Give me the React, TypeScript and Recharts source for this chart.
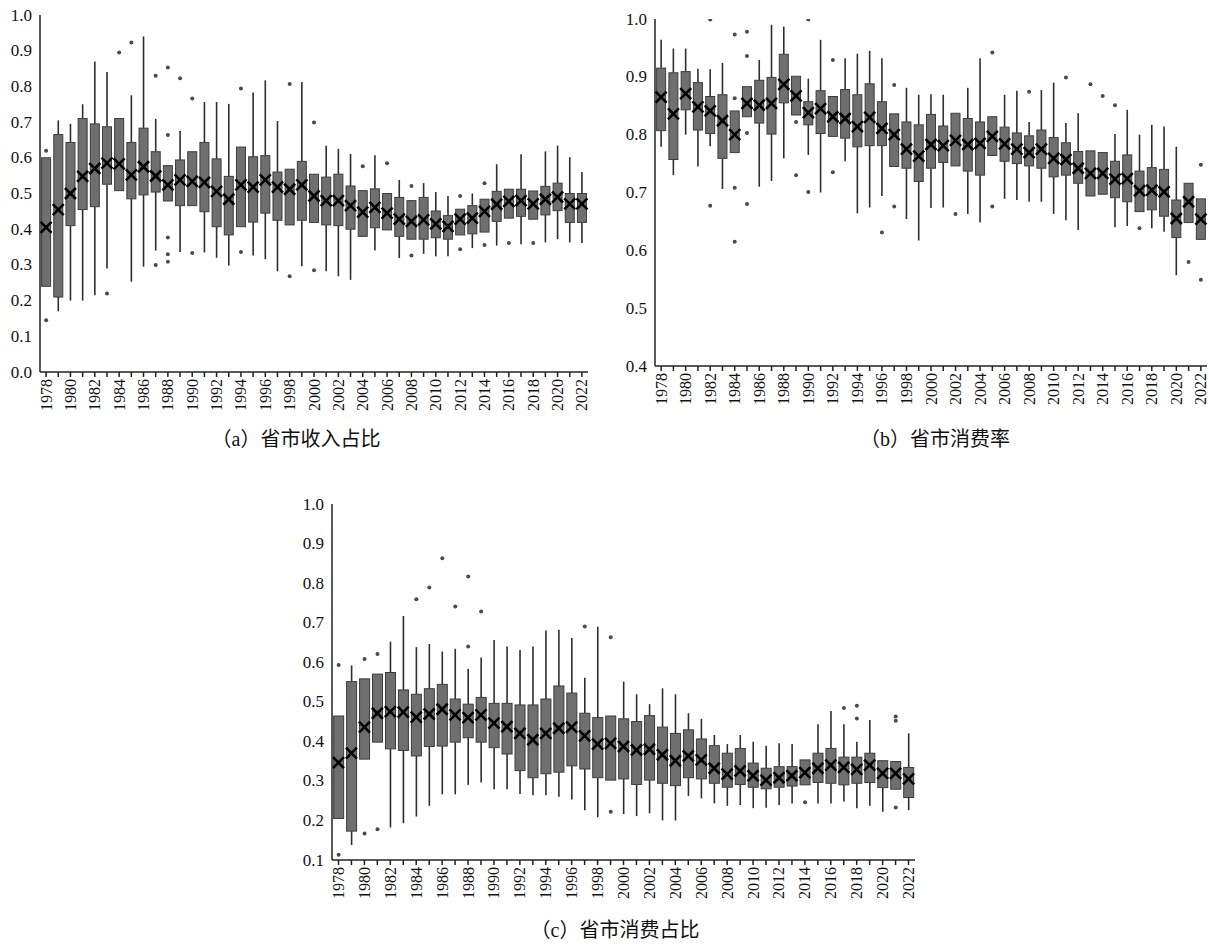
import React from 'react';
import { ComposedChart, Bar, Scatter, XAxis, YAxis } from 'recharts';

const years = ['1978','1979','1980','1981','1982','1983','1984','1985','1986','1987','1988','1989','1990','1991','1992','1993','1994','1995','1996','1997','1998','1999','2000','2001','2002','2003','2004','2005','2006','2007','2008','2009','2010','2011','2012','2013','2014','2015','2016','2017','2018','2019','2020','2021','2022'];

// (a) 省市收入占比
const aMin = [0.24,0.17,0.20,0.20,0.215,0.29,0.508,0.253,0.295,0.34,0.479,0.336,0.466,0.335,0.32,0.298,0.407,0.326,0.316,0.282,0.412,0.296,0.419,0.282,0.268,0.258,0.38,0.34,0.398,0.319,0.372,0.331,0.324,0.324,0.384,0.347,0.392,0.354,0.431,0.358,0.428,0.363,0.372,0.363,0.361];
const aQ1 = [0.24,0.21,0.41,0.455,0.463,0.526,0.508,0.485,0.496,0.504,0.479,0.466,0.466,0.449,0.407,0.384,0.407,0.42,0.445,0.425,0.412,0.425,0.419,0.412,0.41,0.40,0.38,0.404,0.398,0.38,0.372,0.372,0.376,0.372,0.384,0.387,0.392,0.422,0.431,0.436,0.428,0.44,0.452,0.419,0.419];
const aQ3 = [0.60,0.665,0.643,0.71,0.695,0.687,0.71,0.643,0.683,0.617,0.578,0.594,0.617,0.643,0.597,0.548,0.63,0.603,0.606,0.56,0.568,0.59,0.554,0.546,0.554,0.521,0.508,0.513,0.50,0.489,0.48,0.489,0.451,0.438,0.456,0.466,0.484,0.506,0.512,0.512,0.507,0.52,0.529,0.50,0.50];
const aMax = [0.60,0.705,0.695,0.75,0.87,0.84,0.71,0.775,0.94,0.709,0.578,0.675,0.617,0.756,0.756,0.751,0.63,0.783,0.817,0.703,0.568,0.812,0.554,0.634,0.625,0.611,0.508,0.607,0.50,0.538,0.48,0.529,0.504,0.493,0.456,0.50,0.484,0.582,0.512,0.61,0.507,0.618,0.634,0.602,0.56];
const aMean = [0.405,0.455,0.50,0.548,0.57,0.585,0.583,0.552,0.575,0.549,0.524,0.538,0.534,0.531,0.506,0.484,0.524,0.518,0.538,0.518,0.512,0.524,0.493,0.48,0.48,0.466,0.448,0.461,0.445,0.428,0.422,0.426,0.415,0.408,0.428,0.431,0.45,0.47,0.478,0.48,0.471,0.484,0.49,0.471,0.471];
const aOut = [[0.62,0.145],[],[],[],[],[0.22],[0.895],[0.923],[],[0.83,0.30],[0.853,0.664,0.377,0.33,0.309],[0.823],[0.766,0.333],[],[],[],[0.794,0.336],[],[],[],[0.807,0.268],[],[0.699,0.285],[],[],[],[0.576],[],[0.585],[],[0.521,0.326],[],[],[],[0.493,0.344],[],[0.529,0.356],[],[0.361],[],[0.361],[],[],[],[]];

// (b) 省市消费率
const bMin = [0.779,0.73,0.80,0.745,0.78,0.706,0.769,0.831,0.71,0.72,0.759,0.834,0.765,0.70,0.797,0.754,0.664,0.674,0.694,0.745,0.654,0.617,0.673,0.674,0.746,0.663,0.648,0.764,0.689,0.687,0.684,0.684,0.663,0.652,0.635,0.694,0.697,0.64,0.642,0.667,0.638,0.632,0.557,0.648,0.619];
const bQ1 = [0.807,0.757,0.843,0.808,0.802,0.759,0.769,0.831,0.82,0.801,0.855,0.834,0.817,0.802,0.797,0.794,0.779,0.781,0.781,0.745,0.742,0.719,0.742,0.752,0.746,0.737,0.73,0.764,0.754,0.75,0.746,0.742,0.727,0.73,0.716,0.694,0.697,0.691,0.684,0.667,0.67,0.659,0.622,0.648,0.619];
const bQ3 = [0.915,0.907,0.909,0.89,0.866,0.869,0.841,0.883,0.894,0.899,0.939,0.901,0.857,0.876,0.866,0.878,0.869,0.888,0.857,0.836,0.822,0.817,0.835,0.815,0.837,0.828,0.822,0.831,0.813,0.803,0.798,0.808,0.795,0.786,0.771,0.772,0.769,0.754,0.765,0.737,0.743,0.74,0.687,0.716,0.689];
const bMax = [0.964,0.949,0.949,0.914,0.913,0.924,0.841,0.883,0.929,0.99,0.987,0.901,0.897,0.964,0.866,0.932,0.94,0.945,0.932,0.836,0.881,0.869,0.870,0.869,0.837,0.881,0.932,0.831,0.869,0.876,0.822,0.877,0.89,0.82,0.837,0.772,0.769,0.801,0.843,0.80,0.817,0.814,0.779,0.716,0.689];
const bMean = [0.865,0.836,0.871,0.848,0.841,0.824,0.80,0.854,0.851,0.854,0.887,0.867,0.838,0.845,0.831,0.828,0.814,0.83,0.811,0.80,0.775,0.763,0.783,0.781,0.79,0.783,0.785,0.797,0.784,0.775,0.769,0.775,0.759,0.757,0.742,0.733,0.733,0.723,0.724,0.703,0.704,0.701,0.655,0.684,0.654];
const bOut = [[],[],[],[],[0.999,0.677],[],[0.973,0.863,0.708,0.615],[0.978,0.936,0.803,0.68],[],[],[],[0.822,0.73],[0.999,0.701],[],[0.929,0.735],[],[],[],[0.631],[0.886,0.676],[],[],[],[],[0.663],[],[],[0.942,0.676],[],[],[0.874],[],[],[0.899],[],[0.887],[0.867],[0.851],[],[0.638],[],[],[],[0.58],[0.748,0.549]];

// (c) 省市消费占比
const cMin = [0.205,0.138,0.355,0.398,0.182,0.193,0.21,0.237,0.266,0.266,0.29,0.296,0.279,0.279,0.267,0.264,0.264,0.26,0.253,0.226,0.208,0.302,0.216,0.211,0.218,0.20,0.20,0.262,0.256,0.243,0.237,0.239,0.231,0.232,0.239,0.243,0.29,0.243,0.243,0.248,0.231,0.237,0.222,0.279,0.226];
const cQ1 = [0.205,0.173,0.355,0.398,0.381,0.377,0.363,0.387,0.388,0.398,0.409,0.398,0.384,0.368,0.326,0.308,0.318,0.322,0.338,0.33,0.308,0.302,0.305,0.291,0.302,0.294,0.288,0.308,0.305,0.294,0.284,0.291,0.284,0.28,0.284,0.287,0.29,0.296,0.294,0.29,0.294,0.296,0.283,0.279,0.258];
const cQ3 = [0.464,0.551,0.558,0.57,0.574,0.53,0.519,0.533,0.544,0.507,0.494,0.511,0.496,0.496,0.492,0.492,0.507,0.54,0.522,0.471,0.46,0.464,0.457,0.45,0.465,0.436,0.42,0.429,0.406,0.389,0.37,0.382,0.345,0.332,0.336,0.336,0.353,0.37,0.382,0.36,0.36,0.37,0.351,0.349,0.334];
const cMax = [0.464,0.592,0.558,0.57,0.652,0.717,0.638,0.646,0.627,0.634,0.583,0.612,0.656,0.64,0.631,0.64,0.68,0.682,0.661,0.561,0.69,0.464,0.551,0.519,0.494,0.534,0.519,0.471,0.457,0.416,0.393,0.416,0.399,0.389,0.395,0.393,0.353,0.443,0.477,0.443,0.399,0.454,0.351,0.349,0.42];
const cMean = [0.346,0.37,0.436,0.471,0.475,0.474,0.461,0.469,0.481,0.467,0.46,0.467,0.446,0.437,0.42,0.404,0.42,0.433,0.436,0.414,0.393,0.395,0.387,0.378,0.38,0.366,0.351,0.363,0.353,0.332,0.317,0.325,0.313,0.302,0.308,0.313,0.321,0.332,0.34,0.334,0.329,0.34,0.319,0.319,0.305];
const cOut = [[0.593,0.113],[],[0.608,0.167],[0.621,0.178],[],[],[0.759],[0.789],[0.863],[0.741],[0.817,0.64],[0.728],[],[],[],[],[],[],[],[0.69],[],[0.663,0.222],[],[],[],[],[],[],[],[],[],[],[],[],[],[],[0.246],[],[],[0.484],[0.49,0.458],[],[],[0.463,0.452,0.233],[]];

const aTicks = [0, 0.1, 0.2, 0.3, 0.4, 0.5, 0.6, 0.7, 0.8, 0.9, 1.0];
const bTicks = [0.4, 0.5, 0.6, 0.7, 0.8, 0.9, 1.0];
const cTicks = [0.1, 0.2, 0.3, 0.4, 0.5, 0.6, 0.7, 0.8, 0.9, 1.0];

type Row = { year: string; span: [number, number]; min: number; q1: number; q3: number; max: number; mean: number; out: number[] };

function buildRows(mn: number[], q1: number[], q3: number[], mx: number[], mean: number[], out: number[][]): Row[] {
  return years.map((year, i) => {
    const lo = Math.min(mn[i], ...out[i]);
    const hi = Math.max(mx[i], ...out[i]);
    return { year, span: [lo, hi], min: mn[i], q1: q1[i], q3: q3[i], max: mx[i], mean: mean[i], out: out[i] };
  });
}

const SERIF = 'Liberation Serif, Times New Roman, Tinos, DejaVu Serif, serif';

function makeBoxShape(boxW: number) {
  return (props: any) => {
    const { x, y, width, height } = props;
    const d: Row = props.payload ?? props;
    if (x == null || y == null || !d || !d.span) return <g />;
    const [lo, hi] = d.span;
    const top = Math.min(y, y + height);
    const h = Math.abs(height);
    const py = (v: number) => (hi === lo ? top : top + ((hi - v) / (hi - lo)) * h);
    const cx = x + width / 2;
    const yq3 = py(d.q3);
    const yq1 = py(d.q1);
    return (
      <g>
        <line x1={cx} x2={cx} y1={py(d.max)} y2={yq3} stroke="#2e2e2e" strokeWidth={1.6} />
        <line x1={cx} x2={cx} y1={yq1} y2={py(d.min)} stroke="#2e2e2e" strokeWidth={1.6} />
        <rect x={cx - boxW / 2} y={yq3} width={boxW} height={Math.max(1, yq1 - yq3)} fill="#6f6f6f" stroke="#3c3c3c" strokeWidth={1} />
        {d.out.map((v, k) => (
          <circle key={k} cx={cx} cy={py(v)} r={2} fill="#4a4a4a" />
        ))}
      </g>
    );
  };
}

const MeanX = (props: any) => {
  const { cx, cy } = props;
  if (cx == null || cy == null) return <g />;
  const s = 5.5;
  return (
    <g>
      <line x1={cx - s} y1={cy - s} x2={cx + s} y2={cy + s} stroke="#000" strokeWidth={2.6} />
      <line x1={cx - s} y1={cy + s} x2={cx + s} y2={cy - s} stroke="#000" strokeWidth={2.6} />
    </g>
  );
};

const YearTick = (props: any) => {
  const { x, y, payload, index } = props;
  if (index % 2 !== 0) return <g />;
  return (
    <text x={x} y={y} transform={`rotate(-90 ${x} ${y})`} textAnchor="end" dominantBaseline="central" style={{ fontSize: 16, fontFamily: SERIF, fill: '#111' }}>
      {payload.value}
    </text>
  );
};

const ValueTick = (props: any) => {
  const { x, y, payload } = props;
  return (
    <text x={x} y={y} textAnchor="end" dominantBaseline="central" style={{ fontSize: 17, fontFamily: SERIF, fill: '#111' }}>
      {Number(payload.value).toFixed(1)}
    </text>
  );
};

type PanelProps = {
  rows: Row[];
  domain: [number, number];
  ticks: number[];
  width: number;
  height: number;
  yAxisWidth: number;
  top: number;
  right: number;
  xAxisHeight: number;
  boxW: number;
};

function Panel(p: PanelProps) {
  return (
    <ComposedChart
      width={p.width}
      height={p.height}
      data={p.rows}
      margin={{ top: p.top, right: p.right, bottom: 0, left: 0 }}
      barCategoryGap="5%"
    >
      <XAxis
        dataKey="year"
        interval={0}
        tick={<YearTick />}
        tickSize={5}
        tickMargin={2}
        height={p.xAxisHeight}
        axisLine={{ stroke: '#222', strokeWidth: 1.5 }}
        tickLine={{ stroke: '#222', strokeWidth: 1.5 }}
      />
      <YAxis
        type="number"
        domain={p.domain}
        ticks={p.ticks}
        width={p.yAxisWidth}
        tickLine={false}
        tickSize={6}
        axisLine={{ stroke: '#222', strokeWidth: 1.5 }}
        tick={<ValueTick />}
        allowDataOverflow
      />
      <Bar dataKey="span" isAnimationActive={false} shape={makeBoxShape(p.boxW)} />
      <Scatter dataKey="mean" isAnimationActive={false} shape={<MeanX />} />
    </ComposedChart>
  );
}

const captionStyle: React.CSSProperties = {
  position: 'absolute',
  fontSize: 20,
  lineHeight: '24px',
  fontFamily: 'Liberation Serif, Noto Sans CJK SC, serif',
  color: '#111',
  whiteSpace: 'nowrap',
  transform: 'translateX(-50%)',
};

export default function App() {
  const aRows = buildRows(aMin, aQ1, aQ3, aMax, aMean, aOut);
  const bRows = buildRows(bMin, bQ1, bQ3, bMax, bMean, bOut);
  const cRows = buildRows(cMin, cQ1, cQ3, cMax, cMean, cOut);
  return (
    <div style={{ position: 'absolute', left: 0, top: 0, width: 1209, height: 945, background: '#fff' }}>
      <div style={{ position: 'absolute', left: 0, top: 0 }}>
        <Panel rows={aRows} domain={[0, 1]} ticks={aTicks} width={600} height={420} yAxisWidth={40} top={15} right={12} xAxisHeight={48} boxW={9} />
      </div>
      <div style={{ position: 'absolute', left: 600, top: 0 }}>
        <Panel rows={bRows} domain={[0.4, 1]} ticks={bTicks} width={609} height={420} yAxisWidth={55} top={19} right={2} xAxisHeight={54} boxW={9} />
      </div>
      <div style={{ position: 'absolute', left: 280, top: 480 }}>
        <Panel rows={cRows} domain={[0.1, 1]} ticks={cTicks} width={640} height={430} yAxisWidth={52} top={24} right={5} xAxisHeight={50} boxW={10} />
      </div>
      <div style={{ ...captionStyle, left: 296, top: 427 }}>（a）省市收入占比</div>
      <div style={{ ...captionStyle, left: 935, top: 427 }}>（b）省市消费率</div>
      <div style={{ ...captionStyle, left: 615, top: 918 }}>（c）省市消费占比</div>
    </div>
  );
}
